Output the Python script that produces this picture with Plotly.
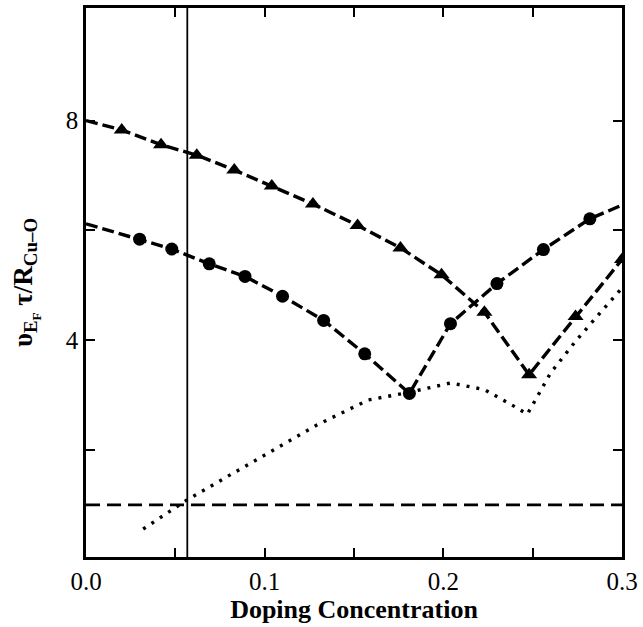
import plotly.graph_objects as go

# Circle series (line and markers)
circ_line_x = [0.0, 0.030, 0.048, 0.069, 0.089, 0.110, 0.133, 0.156, 0.181, 0.204, 0.230, 0.256, 0.282, 0.300]
circ_line_y = [6.12, 5.84, 5.66, 5.39, 5.16, 4.80, 4.36, 3.75, 3.03, 4.30, 5.03, 5.65, 6.21, 6.46]
circ_mark_x = [0.030, 0.048, 0.069, 0.089, 0.110, 0.133, 0.156, 0.181, 0.204, 0.230, 0.256, 0.282]
circ_mark_y = [5.84, 5.66, 5.39, 5.16, 4.80, 4.36, 3.75, 3.03, 4.30, 5.03, 5.65, 6.21]

# Triangle series
tri_line_x = [0.0, 0.020, 0.042, 0.062, 0.083, 0.104, 0.127, 0.152, 0.176, 0.199, 0.223, 0.248, 0.274, 0.300]
tri_line_y = [8.00, 7.83, 7.56, 7.37, 7.10, 6.81, 6.48, 6.09, 5.68, 5.19, 4.51, 3.37, 4.43, 5.47]
tri_mark_x = [0.020, 0.042, 0.062, 0.083, 0.104, 0.127, 0.152, 0.176, 0.199, 0.223, 0.248, 0.274, 0.300]
tri_mark_y = [7.83, 7.56, 7.37, 7.10, 6.81, 6.48, 6.09, 5.68, 5.19, 4.51, 3.37, 4.43, 5.47]

# Dotted curve
dot_x = [0.032, 0.057, 0.082, 0.108, 0.129, 0.158, 0.181, 0.204, 0.223, 0.241, 0.247, 0.260, 0.274, 0.290, 0.300]
dot_y = [0.56, 1.10, 1.57, 2.05, 2.45, 2.91, 3.05, 3.22, 3.10, 2.77, 2.65, 3.40, 3.98, 4.58, 4.95]

# Horizontal dashed reference and vertical line
hline_x = [0.0, 0.3]
hline_y = [1.0, 1.0]
vline_x = [0.0567, 0.0567]
vline_y = [0.0, 10.1]

x_tickvals = [0.0, 0.1, 0.2, 0.3]
x_ticktext = ["0.0", "0.1", "0.2", "0.3"]
x_minor_vals = [0.05, 0.15, 0.25]
y_tickvals = [4, 8]
y_ticktext = ["4", "8"]
y_minor_vals = [2, 6]

fig = go.Figure()
fig.add_trace(go.Scatter(x=vline_x, y=vline_y, mode="lines",
                         line=dict(color="black", width=1.8), showlegend=False))
fig.add_trace(go.Scatter(x=hline_x, y=hline_y, mode="lines",
                         line=dict(color="black", width=2.8, dash="14px,7px"), showlegend=False))
fig.add_trace(go.Scatter(x=dot_x, y=dot_y, mode="lines",
                         line=dict(color="black", width=3.4, dash="3px,7px"), showlegend=False))
fig.add_trace(go.Scatter(x=circ_line_x, y=circ_line_y, mode="lines",
                         line=dict(color="black", width=3.4, dash="12px,5px"), showlegend=False))
fig.add_trace(go.Scatter(x=circ_mark_x, y=circ_mark_y, mode="markers",
                         marker=dict(symbol="circle", size=13, color="black"), showlegend=False))
fig.add_trace(go.Scatter(x=tri_line_x, y=tri_line_y, mode="lines",
                         line=dict(color="black", width=3.4, dash="12px,5px"), showlegend=False))
fig.add_trace(go.Scatter(x=tri_mark_x, y=tri_mark_y, mode="markers",
                         marker=dict(symbol="triangle-up", size=14, color="black"), showlegend=False))

font_family = "Liberation Serif, Times New Roman, serif"
fig.update_layout(
    width=643, height=627,
    margin=dict(l=86, r=16, t=5, b=70),
    paper_bgcolor="white", plot_bgcolor="white",
    font=dict(family=font_family, color="black", size=20),
    xaxis=dict(range=[0, 0.3], tickvals=x_tickvals, ticktext=x_ticktext,
               ticks="inside", ticklen=9, tickwidth=2, tickcolor="black",
               minor=dict(tickvals=x_minor_vals, ticks="inside", ticklen=9, tickwidth=2, tickcolor="black"),
               showline=True, linecolor="black", linewidth=2.5, mirror="ticks",
               showgrid=False, zeroline=False, ticklabeloverflow="allow",
               tickfont=dict(size=25, family=font_family),
               title=dict(text="<b>Doping Concentration</b>", font=dict(size=26, family=font_family), standoff=0)),
    yaxis=dict(range=[0.05, 10.05], tickvals=y_tickvals, ticktext=y_ticktext,
               ticks="inside", ticklen=9, tickwidth=2, tickcolor="black",
               minor=dict(tickvals=y_minor_vals, ticks="inside", ticklen=9, tickwidth=2, tickcolor="black"),
               showline=True, linecolor="black", linewidth=2.5, mirror="ticks",
               showgrid=False, zeroline=False,
               tickfont=dict(size=25, family=font_family),
               title=dict(text="<b>υ<sub>E<sub>F</sub></sub> τ/R<sub>Cu–O</sub></b>", font=dict(size=27, family=font_family), standoff=26)),
)

fig.write_html("out.html")
